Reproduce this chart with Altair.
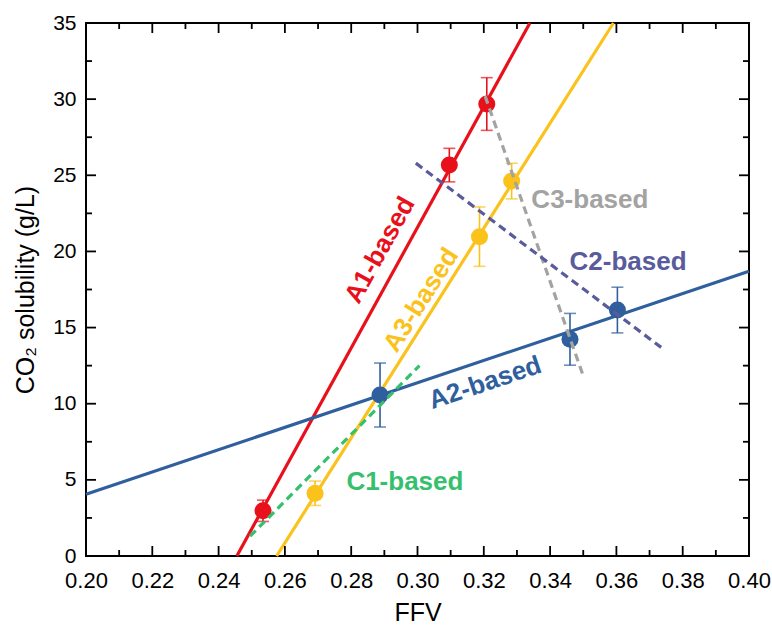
import altair as alt
import pandas as pd

W, H = 663, 533
FONT = "Liberation Sans"

# Measured solubility points with error bars
point_group = ["A1", "A1", "A1", "A3", "A3", "A3", "A2", "A2", "A2"]
point_ffv = [0.2534, 0.3096, 0.3209, 0.2691, 0.3187, 0.3284, 0.2887, 0.3460, 0.3603]
point_sol = [2.97, 25.67, 29.68, 4.12, 20.97, 24.62, 10.57, 14.23, 16.15]
point_err = [0.70, 1.10, 1.73, 0.80, 1.95, 1.17, 2.10, 1.70, 1.50]

# Fitted trend lines (end points in data units)
solid_group = ["A1", "A3", "A2"]
solid_x0 = [0.2455, 0.2575, 0.200]
solid_y0 = [0.0, 0.0, 4.05]
solid_x1 = [0.3339, 0.3591, 0.400]
solid_y1 = [35.0, 35.0, 18.70]

dash_group = ["C1", "C3", "C2"]
dash_x0 = [0.2495, 0.3204, 0.2995]
dash_y0 = [1.30, 30.20, 25.80]
dash_x1 = [0.3006, 0.3502, 0.3735]
dash_y1 = [12.50, 11.70, 13.70]

# Line labels
label_text = ["A1-based", "A3-based", "A2-based", "C1-based", "C3-based", "C2-based"]
label_group = ["A1", "A3", "A2", "C1", "C3", "C2"]
label_x = [0.2887, 0.3011, 0.3204, 0.2962, 0.3520, 0.3635]
label_y = [20.09, 16.81, 11.36, 4.86, 23.37, 19.30]
label_angle = [299, 302.3, 341.4, 0, 0, 0]

groups = ["A1", "A3", "A2", "C1", "C3", "C2"]
colors = ["#E8101A", "#FBC21C", "#2F5F9C", "#35C06E", "#A3A3A3", "#5A5B9C"]

# Axis tick positions
x_major = [0.20, 0.22, 0.24, 0.26, 0.28, 0.30, 0.32, 0.34, 0.36, 0.38, 0.40]
x_minor = [0.21, 0.23, 0.25, 0.27, 0.29, 0.31, 0.33, 0.35, 0.37, 0.39]
y_major = [0, 5, 10, 15, 20, 25, 30, 35]
y_minor = [2.5, 7.5, 12.5, 17.5, 22.5, 27.5, 32.5]

xs = alt.Scale(domain=[0.20, 0.40], nice=False, zero=False)
ys = alt.Scale(domain=[0, 35], nice=False, zero=False)
cs = alt.Scale(domain=groups, range=colors)

pts = pd.DataFrame({"g": point_group, "x": point_ffv, "y": point_sol, "e": point_err})
pts["lo"] = pts["y"] - pts["e"]
pts["hi"] = pts["y"] + pts["e"]

solid = pd.DataFrame({"g": solid_group, "x0": solid_x0, "y0": solid_y0,
                      "x1": solid_x1, "y1": solid_y1})
dash = pd.DataFrame({"g": dash_group, "x0": dash_x0, "y0": dash_y0,
                     "x1": dash_x1, "y1": dash_y1})
labels = pd.DataFrame({"t": label_text, "g": label_group, "x": label_x,
                       "y": label_y, "a": label_angle})

xaxis = alt.Axis(values=x_major, format=".2f", tickSize=0, domain=False, grid=False,
                 labelFontSize=22, labelPadding=14, labelFont=FONT, labelColor="black",
                 title="FFV", titleFontSize=25, titleFont=FONT, titleFontWeight="normal",
                 titlePadding=9, titleColor="black", labelFlush=False)
yaxis = alt.Axis(values=y_major, tickSize=0, domain=False, grid=False,
                 labelFontSize=21, labelPadding=10, labelFont=FONT, labelColor="black",
                 title="CO\u2082 solubility (g/L)", titleFontSize=25, titleFont=FONT,
                 titleFontWeight="normal", titlePadding=14, titleColor="black",
                 labelFlush=False)


def X(field):
    return alt.X(field, scale=xs, axis=xaxis)


def Y(field):
    return alt.Y(field, scale=ys, axis=yaxis)


color = alt.Color("g:N", scale=cs, legend=None)

solid_lines = alt.Chart(solid).mark_rule(strokeWidth=3.2).encode(
    x=X("x0:Q"), x2="x1:Q", y=Y("y0:Q"), y2="y1:Q", color=color,
)

dash_lines = alt.Chart(dash).mark_rule(strokeWidth=3.2, strokeDash=[8, 5]).encode(
    x=X("x0:Q"), x2="x1:Q", y=Y("y0:Q"), y2="y1:Q", color=color,
)

bars = alt.Chart(pts).mark_rule(strokeWidth=1.6).encode(
    x=X("x:Q"), y=Y("lo:Q"), y2="hi:Q", color=color,
)
cap_lo = alt.Chart(pts).mark_tick(orient="horizontal", size=12, thickness=1.6).encode(
    x=X("x:Q"), y=Y("lo:Q"), color=color,
)
cap_hi = alt.Chart(pts).mark_tick(orient="horizontal", size=12, thickness=1.6).encode(
    x=X("x:Q"), y=Y("hi:Q"), color=color,
)
dots = alt.Chart(pts).mark_circle(size=290, opacity=1).encode(
    x=X("x:Q"), y=Y("y:Q"), color=color,
)

texts = alt.Chart(labels).mark_text(font=FONT, fontSize=26, fontWeight="bold",
                                    align="center", baseline="middle").encode(
    x=X("x:Q"), y=Y("y:Q"),
    text="t:N",
    angle=alt.Angle("a:Q", scale=None),
    color=color,
)


# Inward ticks on all four sides of the frame
def xticks(vals, length, at_top):
    df = pd.DataFrame({"v": vals})
    y0 = 0 if at_top else H
    y1 = length if at_top else H - length
    return alt.Chart(df).mark_rule(color="black", strokeWidth=1.8).encode(
        x=X("v:Q"), y=alt.value(y0), y2=alt.value(y1),
    )


def yticks(vals, length, at_right):
    df = pd.DataFrame({"v": vals})
    x0 = W if at_right else 0
    x1 = W - length if at_right else length
    return alt.Chart(df).mark_rule(color="black", strokeWidth=1.8).encode(
        y=Y("v:Q"), x=alt.value(x0), x2=alt.value(x1),
    )


ticks = [
    xticks(x_major, 10, False), xticks(x_minor, 6, False),
    xticks(x_major, 10, True), xticks(x_minor, 6, True),
    yticks(y_major, 10, False), yticks(y_minor, 6, False),
    yticks(y_major, 10, True), yticks(y_minor, 6, True),
]

chart = alt.layer(
    solid_lines, bars, cap_lo, cap_hi, dots, dash_lines, texts, *ticks
).properties(
    width=W, height=H,
    autosize=alt.AutoSizeParams(type="none"),
    padding={"left": 86, "top": 23, "right": 23, "bottom": 72},
    background="white",
).configure_view(stroke="black", strokeWidth=2)

chart.save("out.html", embed_options={"renderer": "svg", "actions": False})
